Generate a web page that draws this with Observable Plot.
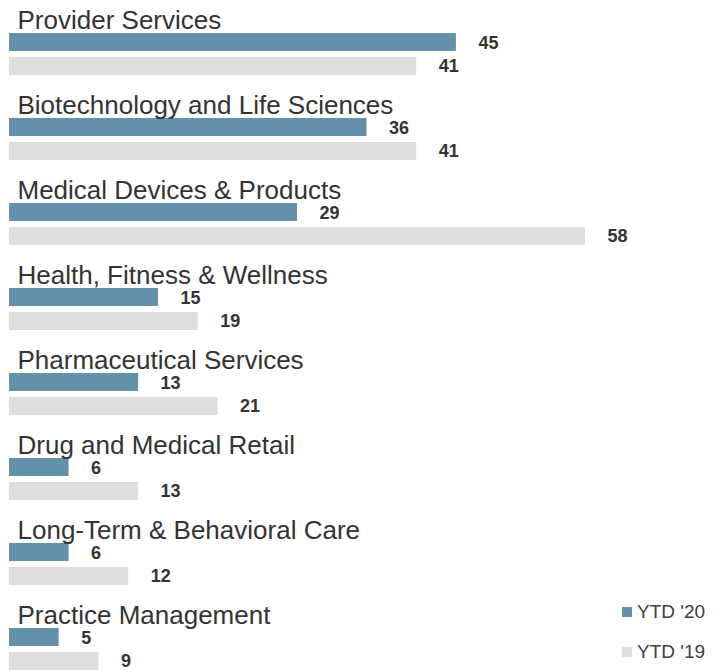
<!DOCTYPE html>
<html>
<head>
<meta charset="utf-8">
<script src="https://cdn.jsdelivr.net/npm/d3@7"></script>
<script src="https://cdn.jsdelivr.net/npm/@observablehq/plot@0.6"></script>
<style>
  html, body { margin: 0; padding: 0; overflow: hidden; background: #fff; }
  #wrap { position: relative; width: 716px; height: 670px; }
  .legend { position: absolute; left: 622px; font-family: "Liberation Sans", Arial, sans-serif; font-size: 19px; color: #404040; display: flex; align-items: center; }
  .legend .sw { width: 10px; height: 10px; margin-right: 5px; }
</style>
</head>
<body>
<div id="wrap"></div>
<script>
const categories = [
  "Provider Services",
  "Biotechnology and Life Sciences",
  "Medical Devices & Products",
  "Health, Fitness & Wellness",
  "Pharmaceutical Services",
  "Drug and Medical Retail",
  "Long-Term & Behavioral Care",
  "Practice Management"
];
const seriesNames = ["YTD '20", "YTD '19"];
const ytd20 = [45, 36, 29, 15, 13, 6, 6, 5];
const ytd19 = [41, 41, 58, 19, 21, 13, 12, 9];
const seriesColors = ["#6490aa", "#dddddd"];

const rows = [];
categories.forEach((c, i) => {
  rows.push({category: c, series: seriesNames[0], value: ytd20[i]});
  rows.push({category: c, series: seriesNames[1], value: ytd19[i]});
});
const rows20 = rows.filter(d => d.series === seriesNames[0]);
const rows19 = rows.filter(d => d.series === seriesNames[1]);

const labelOpts = {
  x: "value", y: "series", fy: "category", text: d => String(d.value),
  textAnchor: "start", dx: 22, fontWeight: "bold", fontSize: 18, fill: "#333333"
};

const chart = Plot.plot({
  width: 716,
  height: 674,
  marginTop: 28,
  marginBottom: 0,
  marginLeft: 9,
  marginRight: 131,
  style: {fontFamily: "'Liberation Sans', Arial, sans-serif", background: "#fff"},
  x: {domain: [0, 58], axis: null},
  y: {domain: seriesNames, axis: null, paddingInner: 0.23, paddingOuter: 0.115},
  fy: {domain: categories, axis: null, paddingInner: 0.437, paddingOuter: 0},
  color: {domain: seriesNames, range: seriesColors},
  marks: [
    Plot.barX(rows, {x: "value", y: "series", fy: "category", fill: "series"}),
    Plot.text(rows20, {...labelOpts, dy: 1}),
    Plot.text(rows19, {...labelOpts, dy: 0}),
    Plot.text(categories, {
      fy: d => d, text: d => d, frameAnchor: "top-left", textAnchor: "start",
      lineAnchor: "middle", dx: 8, dy: -10, fontSize: 26, fill: "#333333"
    })
  ]
});

const wrap = document.getElementById("wrap");
wrap.appendChild(chart);

seriesNames.forEach((s, i) => {
  const el = document.createElement("div");
  el.className = "legend";
  el.style.top = (i === 0 ? 600 : 640) + "px";
  el.style.height = "24px";
  const sw = document.createElement("span");
  sw.className = "sw";
  sw.style.background = seriesColors[i];
  el.appendChild(sw);
  const t = document.createElement("span");
  t.textContent = s;
  el.appendChild(t);
  wrap.appendChild(el);
});
</script>
</body>
</html>
